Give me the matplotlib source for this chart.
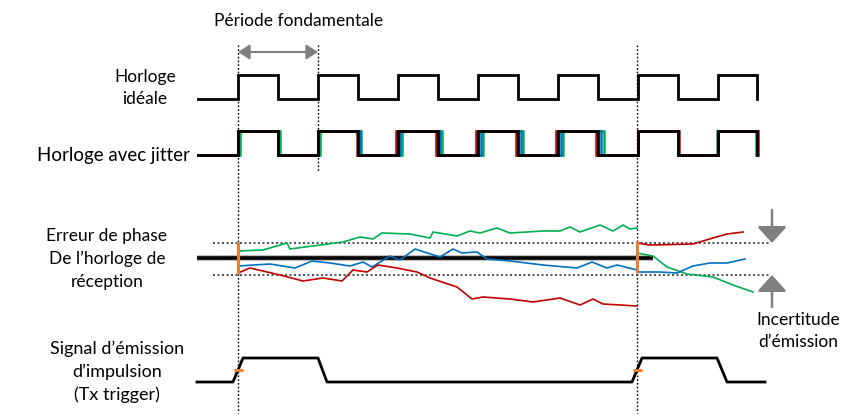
import matplotlib
matplotlib.use("Agg")
import matplotlib.pyplot as plt
from matplotlib.patches import FancyArrowPatch

plt.rcParams['font.family'] = ['Lato', 'DejaVu Sans']

# ---------------- data ----------------
clock_edges = [238, 278, 318, 358, 398, 438, 478, 518, 558, 598, 638, 678, 718, 757]
red_jitter = [0, 0, 0, -1, -2, -2, -2, -2, -2, -2, 0, 1, 0, 1]
blue_jitter = [0, 0, 0, 2, 2, 2, 3, 3, 3, 3, 0, 0, 0, 0]
green_jitter = [2, 2, 2, 3, 4, 4, 5, 5, 5, 6, 0, 0, -1, -1]

green_a_x = [238, 263, 287, 290, 343, 360, 373, 382, 410, 430, 433, 457, 470, 480, 497, 510, 543, 560, 570, 580, 600, 613, 623, 630, 637]
green_a_y = [251, 250, 243, 249, 242, 237, 239, 233, 234, 238, 232, 236, 231, 233, 228, 233, 231, 231, 227, 232, 225, 231, 225, 229, 228]
blue_a_x = [238, 270, 295, 312, 330, 350, 363, 372, 390, 400, 415, 440, 453, 462, 477, 487, 510, 543, 577, 592, 607, 617, 637]
blue_a_y = [266, 264, 268, 261, 263, 266, 262, 267, 256, 260, 249, 257, 249, 253, 252, 259, 261, 265, 268, 262, 268, 265, 270]
red_a_x = [238, 250, 280, 303, 323, 342, 353, 367, 378, 397, 417, 430, 457, 472, 483, 510, 533, 560, 580, 593, 603, 620, 637]
red_a_y = [273, 268, 275, 281, 278, 281, 270, 272, 265, 268, 272, 278, 287, 299, 297, 299, 302, 298, 305, 299, 304, 305, 306]

red_b_x = [637, 650, 693, 713, 727, 743]
red_b_y = [243, 245, 244, 238, 234, 232]
green_b_x = [637, 653, 667, 687, 713, 733, 753]
green_b_y = [253, 256, 267, 274, 277, 285, 292]
blue_b_x = [637, 660, 677, 693, 710, 727, 745]
blue_b_y = [272, 272, 273, 266, 263, 263, 259]

tx_x = [197, 233, 243, 318, 327, 632, 642, 717, 727, 765]
tx_level = [0, 0, 1, 1, 0, 0, 1, 1, 0, 0]

# ---------------- figure ----------------
fig = plt.figure(figsize=(8.45, 4.16), dpi=100)
ax = fig.add_axes([0, 0, 1, 1])
ax.set_xlim(0, 845)
ax.set_ylim(416, 0)
ax.axis('off')

BLACK = '#000000'
RED = '#C00000'
BLUE = '#0070C0'
GREEN = '#00B050'
ORANGE = '#ED7D31'
GRAY = '#808080'
FS = 12.5
LS = 1.5


def square(edges, offsets, start, lo, hi):
    xs, ys = [start], [lo]
    level = lo
    for e, o in zip(edges, offsets):
        nxt = hi if level == lo else lo
        xs += [e + o, e + o]
        ys += [level, nxt]
        level = nxt
    return xs, ys


# vertical dotted guides
dot = (0, (1.2, 1.5))
ax.plot([238, 238], [45, 413], color=BLACK, lw=1, ls=dot, zorder=1)
ax.plot([318, 318], [45, 172], color=BLACK, lw=1, ls=dot, zorder=1)
ax.plot([637, 637], [45, 413], color=BLACK, lw=1, ls=dot, zorder=1)

# ideal clock
xs, ys = square(clock_edges, [0] * len(clock_edges), 198, 99, 75)
ax.plot(xs, ys, color=BLACK, lw=2, solid_joinstyle='miter', zorder=3)

# jitter clock
for offs, col in [(green_jitter, GREEN), (blue_jitter, BLUE), (red_jitter, RED)]:
    xs, ys = square(clock_edges, offs, 198, 155, 131)
    ax.plot(xs, ys, color=col, lw=1.8, solid_joinstyle='miter', zorder=3)
xs, ys = square(clock_edges, [0] * len(clock_edges), 198, 155, 131)
ax.plot(xs, ys, color=BLACK, lw=2, solid_joinstyle='miter', zorder=4)

# period arrow
ax.add_patch(FancyArrowPatch((238, 52), (318, 52), arrowstyle='<|-|>,head_length=7,head_width=4.5',
                             color=GRAY, lw=1.5, mutation_scale=1, shrinkA=0, shrinkB=0, zorder=3))
ax.text(299, 21, 'Période fondamentale', fontsize=FS, ha='center', va='center')

# phase error section
ax.plot([213, 770], [243, 243], color='#333333', lw=1.2, ls=dot, zorder=1)
ax.plot([213, 770], [275, 275], color='#333333', lw=1.2, ls=dot, zorder=1)
ax.plot([197, 653], [258, 258], color='#b8b8b8', lw=4.2, zorder=2, solid_capstyle='butt')
ax.plot([197, 653], [258, 258], color=BLACK, lw=2.6, zorder=2, solid_capstyle='butt')
for xx, yy, col in [(green_a_x, green_a_y, GREEN), (blue_a_x, blue_a_y, BLUE), (red_a_x, red_a_y, RED),
                    (red_b_x, red_b_y, RED), (green_b_x, green_b_y, GREEN), (blue_b_x, blue_b_y, BLUE)]:
    ax.plot(xx, yy, color=col, lw=1.2, zorder=3, solid_joinstyle='round')
ax.plot([238, 238], [242, 274], color=ORANGE, lw=2.2, zorder=4, solid_capstyle='butt')
ax.plot([637, 637], [241, 273], color=ORANGE, lw=2.2, zorder=4, solid_capstyle='butt')

# uncertainty arrows
ax.add_patch(FancyArrowPatch((772, 210), (772, 243), arrowstyle='-|>,head_length=10,head_width=9',
                             color=GRAY, lw=1.8, mutation_scale=1, shrinkA=0, shrinkB=0, zorder=3))
ax.add_patch(FancyArrowPatch((772, 307), (772, 275), arrowstyle='-|>,head_length=10,head_width=9',
                             color=GRAY, lw=1.8, mutation_scale=1, shrinkA=0, shrinkB=0, zorder=3))

# Tx trigger
ty = [382 - 24 * v for v in tx_level]
ax.plot(tx_x, ty, color=BLACK, lw=2, zorder=3)
ax.plot([234, 243], [370, 370], color=ORANGE, lw=2.2, zorder=4, solid_capstyle='butt')
ax.plot([633, 642], [370, 370], color=ORANGE, lw=2.2, zorder=4, solid_capstyle='butt')

# labels
ax.text(145, 88, 'Horloge\nidéale', fontsize=FS, ha='center', va='center', linespacing=LS)
ax.text(190, 155, 'Horloge avec jitter', fontsize=13.5, ha='right', va='center')
ax.text(107, 259, 'Erreur de phase\nDe l\u2019horloge de\nréception', fontsize=FS, ha='center', va='center', linespacing=LS)
ax.text(117, 372, 'Signal d\u2019émission\nd\u2019impulsion\n(Tx trigger)', fontsize=13, ha='center', va='center', linespacing=LS)
ax.text(798, 331, 'Incertitude\nd\u2019émission', fontsize=FS, ha='center', va='center', linespacing=LS)

fig.savefig('out.png', dpi=100)
